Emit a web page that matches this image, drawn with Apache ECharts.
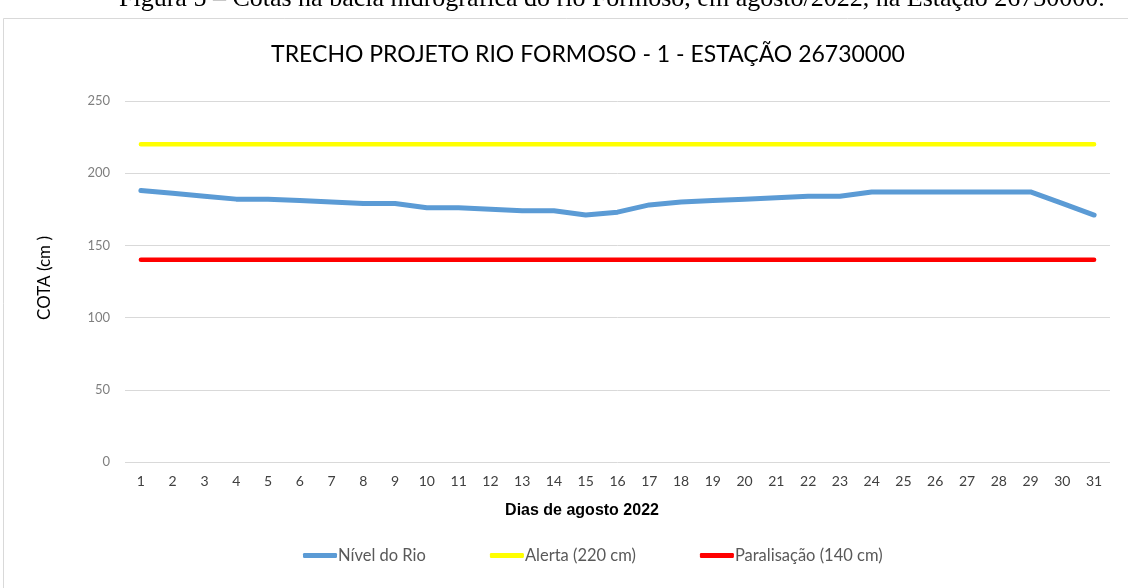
<!DOCTYPE html>
<html>
<head>
<meta charset="utf-8">
<script src="https://cdn.jsdelivr.net/npm/echarts@6/dist/echarts.min.js"></script>
<style>
  html, body { margin: 0; padding: 0; background: #fff; }
  #chart { width: 1128px; height: 588px; }
</style>
</head>
<body>
<div id="chart"></div>
<script>
// dias de agosto 2022
let dias = [];
for (let d = 1; d <= 31; d++) dias.push(String(d));

let nivelRio = [188, 186, 184, 182, 182, 181, 180, 179, 179, 176, 176, 175, 174, 174, 171, 173,
    178, 180, 181, 182, 183, 184, 184, 187, 187, 187, 187, 187, 187, 179, 171];
let alerta = [220, 220, 220, 220, 220, 220, 220, 220, 220, 220, 220, 220, 220, 220, 220, 220,
    220, 220, 220, 220, 220, 220, 220, 220, 220, 220, 220, 220, 220, 220, 220];
let paralisacao = [140, 140, 140, 140, 140, 140, 140, 140, 140, 140, 140, 140, 140, 140, 140, 140,
    140, 140, 140, 140, 140, 140, 140, 140, 140, 140, 140, 140, 140, 140, 140];
let nomes = ['Nível do Rio', 'Alerta (220 cm)', 'Paralisação (140 cm)'];
let cores = ['#5b9bd5', '#ffff00', '#ff0000'];

let option = {
    animation: false,
    backgroundColor: '#fff',
    title: {
        text: 'TRECHO PROJETO RIO FORMOSO - 1 - ESTAÇÃO 26730000',
        left: 583,
        textAlign: 'center',
        top: 38,
        textStyle: { fontFamily: 'Lato', fontSize: 23, fontWeight: 'normal', color: '#000' }
    },
    graphic: [
        {
            type: 'text', left: 119, top: -14,
            style: { text: 'Figura 5 – Cotas na bacia hidrográfica do rio Formoso, em agosto/2022, na Estação 26730000.',
                font: '26px "Liberation Serif"', fill: '#000' }
        },
        {
            type: 'rect', shape: { x: 3.5, y: 18.5, width: 1130, height: 580 },
            style: { fill: 'none', stroke: '#d9d9d9', lineWidth: 1 }, z: -1
        },
        {
            type: 'text', x: 582, y: 511,
            style: { text: 'Dias de agosto 2022', font: 'bold 16px "Liberation Sans"', fill: '#000',
                textAlign: 'center', textVerticalAlign: 'middle' }
        },
        {
            type: 'text', x: 45, y: 278, rotation: Math.PI / 2,
            style: { text: 'COTA (cm )', font: '17px Lato', fill: '#000',
                textAlign: 'center', textVerticalAlign: 'middle' }
        }
    ],
    legend: {
        data: nomes,
        top: 542,
        left: 298,
        itemWidth: 34,
        itemHeight: 5,
        itemGap: 64,
        icon: 'roundRect',
        textStyle: { fontFamily: 'Lato', fontSize: 16.5, color: '#595959', padding: [0, 0, 0, -4] }
    },
    grid: { left: 125, right: 18, top: 100.8, bottom: 125.7 },
    xAxis: {
        type: 'category',
        data: dias,
        boundaryGap: true,
        axisLine: { show: false },
        axisTick: { show: false },
        axisLabel: { interval: 0, margin: 12, color: '#404040', fontFamily: 'Lato', fontSize: 14 }
    },
    yAxis: {
        type: 'value',
        min: 0, max: 250, interval: 50,
        axisLine: { show: false },
        axisTick: { show: false },
        splitLine: { lineStyle: { color: '#d9d9d9', width: 1 } },
        axisLabel: { margin: 15, color: '#7f7f7f', fontFamily: 'Lato', fontSize: 13 }
    },
    series: [
        { name: nomes[0], type: 'line', data: nivelRio, symbol: 'none', color: cores[0],
            lineStyle: { width: 5, cap: 'round', join: 'round' } },
        { name: nomes[1], type: 'line', data: alerta, symbol: 'none', color: cores[1],
            lineStyle: { width: 4.5, cap: 'round' } },
        { name: nomes[2], type: 'line', data: paralisacao, symbol: 'none', color: cores[2],
            lineStyle: { width: 4.5, cap: 'round' } }
    ]
};

let chart = echarts.init(document.getElementById('chart'));
chart.setOption(option);
</script>
</body>
</html>
